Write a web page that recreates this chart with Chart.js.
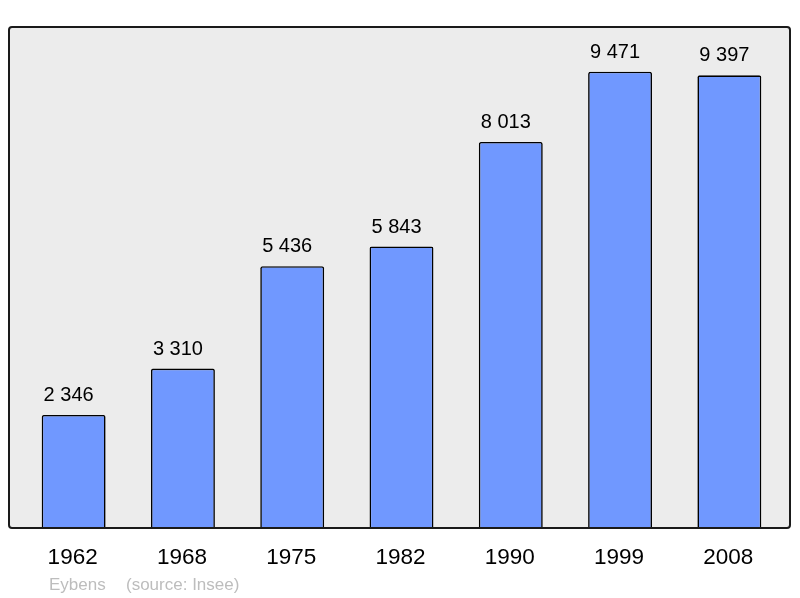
<!DOCTYPE html>
<html>
<head>
<meta charset="utf-8">
<script src="https://cdn.jsdelivr.net/npm/chart.js@4/dist/chart.umd.min.js"></script>
<style>
  html, body { margin: 0; padding: 0; background: #fff; }
  #wrap { width: 800px; height: 598px; }
</style>
</head>
<body>
<div id="wrap"><canvas id="popChart"></canvas></div>
<script>
// Population data (Eybens)
const years = ["1962", "1968", "1975", "1982", "1990", "1999", "2008"];
const population = [2346, 3310, 5436, 5843, 8013, 9471, 9397];
const yMax = 10400;

const fmt = v => String(v).replace(/\B(?=(\d{3})+(?!\d))/g, " ");

// Grey frame behind bars, black border on top, labels and footer
const framePlugin = {
    id: "frame",
    beforeDraw(chart) {
        const ctx = chart.ctx;
        ctx.save();
        ctx.fillStyle = "#ececec";
        ctx.beginPath();
        ctx.roundRect(9, 27, 781, 501, 3);
        ctx.fill();
        ctx.restore();
    },
    afterDatasetsDraw(chart) {
        const ctx = chart.ctx;
        const meta = chart.getDatasetMeta(0);
        const xScale = chart.scales.x;
        ctx.save();
        ctx.strokeStyle = "#1a1a1a";
        ctx.lineWidth = 2;
        ctx.beginPath();
        ctx.roundRect(9, 27, 781, 501, 3);
        ctx.stroke();

        // value labels (sit a little left of the bar centre, as in the original)
        ctx.fillStyle = "#000";
        ctx.textAlign = "center";
        ctx.textBaseline = "alphabetic";
        ctx.font = "20px 'Liberation Sans', Arial, sans-serif";
        meta.data.forEach((bar, i) => {
            ctx.fillText(fmt(population[i]), bar.x - 5, bar.y - 14);
        });

        // category labels
        ctx.font = "22.5px 'Liberation Sans', Arial, sans-serif";
        years.forEach((y, i) => {
            ctx.fillText(y, xScale.getPixelForValue(i) - 1, 564);
        });

        // footer
        ctx.textAlign = "left";
        ctx.fillStyle = "#bdbdbd";
        ctx.font = "17px 'Liberation Sans', Arial, sans-serif";
        ctx.fillText("Eybens", 49, 590);
        ctx.fillText("(source: Insee)", 126, 590);
        ctx.restore();
    }
};

new Chart(document.getElementById("popChart").getContext("2d"), {
    type: "bar",
    data: {
        labels: years,
        datasets: [{
            data: population,
            backgroundColor: "#7098ff",
            borderColor: "#000",
            borderWidth: 1.6,
            borderRadius: 2,
            borderSkipped: "start",
            barPercentage: 0.585,
            categoryPercentage: 1.0
        }]
    },
    options: {
        responsive: true,
        maintainAspectRatio: false,
        animation: false,
        layout: { padding: { left: 19, right: 16, top: 27, bottom: 70 } },
        plugins: {
            legend: { display: false },
            tooltip: { enabled: false }
        },
        scales: {
            x: { display: false },
            y: { display: false, min: 0, max: yMax }
        }
    },
    plugins: [framePlugin]
});
</script>
</body>
</html>
